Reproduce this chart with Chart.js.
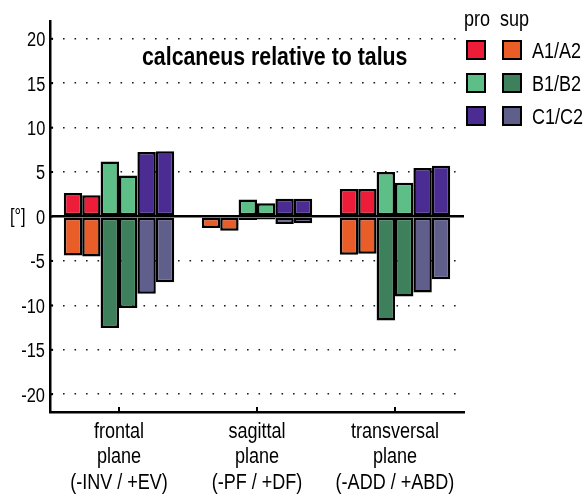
<!DOCTYPE html>
<html>
<head>
<meta charset="utf-8">
<script src="https://cdn.jsdelivr.net/npm/chart.js@4/dist/chart.umd.min.js"></script>
<style>
  html, body { margin: 0; padding: 0; background: #fff; }
  #wrap { position: relative; width: 586px; height: 497px; font-family: 'Liberation Sans', Arial, sans-serif; color: #000; overflow: hidden; }
  canvas { position: absolute; left: 0; top: 0; }
  .txt { position: absolute; white-space: nowrap; line-height: 1; transform: scaleX(0.82); transform-origin: left top; }
  .sw { position: absolute; width: 16px; height: 16px; border: 2.5px solid #000; }
</style>
</head>
<body>
<div id="wrap">
  <canvas id="c" width="586" height="497"></canvas>
  <div class="txt" id="title" style="left:142px; top:43px; font-size:26px; font-weight:bold;">calcaneus relative to talus</div>
  <div class="txt" id="ylab" style="left:10px; top:206px; font-size:20px;">[°]</div>
  <div id="legend"></div>
  <div id="ticks"></div>
</div>
<script>
// ---- data ----
const categories = [
  ['frontal', 'plane', '(-INV / +EV)'],
  ['sagittal', 'plane', '(-PF / +DF)'],
  ['transversal', 'plane', '(-ADD / +ABD)']
];
const yTicks = [-20, -15, -10, -5, 0, 5, 10, 15, 20];
const barNames = ['A1', 'A2', 'B1', 'B2', 'C1', 'C2'];
const legendRows = ['A1/A2', 'B1/B2', 'C1/C2'];
const legendHead = ['pro', 'sup'];
// positive part (pro)
const A1pro = [2.65, null, 3.1];
const A2pro = [2.4, null, 3.1];
const B1pro = [6.2, 1.9, 5.0];
const B2pro = [4.6, 1.5, 3.8];
const C1pro = [7.25, 2.0, 5.45];
const C2pro = [7.35, 2.0, 5.7];
// negative part (sup)
const A1sup = [-4.4, -1.3, -4.3];
const A2sup = [-4.5, -1.6, -4.2];
const B1sup = [-12.55, -0.4, -11.7];
const B2sup = [-10.3, -0.35, -9.0];
const C1sup = [-8.7, -0.85, -8.55];
const C2sup = [-7.4, -0.75, -7.05];

const proColors = ['#ED1C39', '#5DBF87', '#4A2C92'];
const supColors = ['#E85D28', '#3E805B', '#605E8B'];

const proData = [A1pro, A2pro, B1pro, B2pro, C1pro, C2pro];
const supData = [A1sup, A2sup, B1sup, B2sup, C1sup, C2sup];

const datasets = [];
barNames.forEach((name, i) => {
  const g = Math.floor(i / 2);
  datasets.push({ label: name + ' pro', data: proData[i], stack: name, backgroundColor: proColors[g] });
  datasets.push({ label: name + ' sup', data: supData[i], stack: name, backgroundColor: supColors[g] });
});
datasets.forEach(d => { d.borderColor = '#000'; d.borderWidth = 2.5; d.borderSkipped = false; d.categoryPercentage = 0.8; d.barPercentage = 1.0; });

// legend
const leg = document.getElementById('legend');
const hx = [464, 500];
legendHead.forEach((h, j) => {
  const el = document.createElement('div');
  el.className = 'txt'; el.textContent = h;
  el.style.left = hx[j] + 'px'; el.style.top = '8px'; el.style.fontSize = '22px';
  leg.appendChild(el);
});
legendRows.forEach((r, k) => {
  const y = 40 + k * 33;
  [proColors[k], supColors[k]].forEach((c, j) => {
    const s = document.createElement('div');
    s.className = 'sw'; s.style.background = c;
    s.style.left = (466 + j * 36) + 'px'; s.style.top = y + 'px';
    leg.appendChild(s);
  });
  const t = document.createElement('div');
  t.className = 'txt'; t.textContent = r;
  t.style.left = '532px'; t.style.top = y + 'px'; t.style.fontSize = '22px';
  leg.appendChild(t);
});

// ticks drawn inward + tick labels as narrow text positioned from the chart scales
const axisDecor = {
  id: 'axisDecor',
  afterDraw(chart) {
    const ctx = chart.ctx, xs = chart.scales.x, ys = chart.scales.y;
    ctx.save();
    ctx.strokeStyle = '#000'; ctx.lineWidth = 2;
    for (let i = 0; i < xs.ticks.length; i++) {
      const x = xs.getPixelForTick(i);
      ctx.beginPath(); ctx.moveTo(x, xs.top); ctx.lineTo(x, xs.top - 5); ctx.stroke();
    }
    for (let i = 0; i < ys.ticks.length; i++) {
      const y = ys.getPixelForTick(i);
      ctx.beginPath(); ctx.moveTo(ys.right, y); ctx.lineTo(ys.right + 3, y); ctx.stroke();
    }
    ctx.restore();
  },
  afterRender(chart) {
    const box = document.getElementById('ticks');
    if (box.childElementCount) return;
    const xs = chart.scales.x, ys = chart.scales.y;
    ys.ticks.forEach((t, i) => {
      const y = ys.getPixelForTick(i);
      const el = document.createElement('div');
      el.className = 'txt'; el.textContent = String(t.value);
      el.style.fontSize = '20px';
      el.style.right = (586 - (ys.right - 5)) + 'px';
      el.style.top = (y - 9.7) + 'px';
      el.style.transformOrigin = 'right top';
      box.appendChild(el);
    });
    categories.forEach((lines, i) => {
      const x = xs.getPixelForTick(i);
      const el = document.createElement('div');
      el.className = 'txt';
      el.style.fontSize = '22px'; el.style.lineHeight = '25.5px'; el.style.textAlign = 'center';
      el.style.width = '200px'; el.style.left = (x - 100) + 'px'; el.style.top = (xs.top + 5.5) + 'px';
      el.style.transformOrigin = 'center top';
      el.innerHTML = lines.map(s => s.replace(/&/g, '&amp;').replace(/</g, '&lt;')).join('<br>');
      box.appendChild(el);
    });
  }
};

new Chart(document.getElementById('c'), {
  type: 'bar',
  data: { labels: categories, datasets },
  plugins: [axisDecor],
  options: {
    responsive: false,
    animation: false,
    layout: { padding: { top: 21, right: 122, left: 0, bottom: 0 } },
    plugins: { legend: { display: false }, tooltip: { enabled: false }, title: { display: false } },
    scales: {
      x: {
        stacked: true,
        afterFit(s) { s.height = 85; },
        grid: { display: false },
        border: { display: true, color: '#000', width: 2.5 },
        ticks: { display: false, autoSkip: false, maxRotation: 0 }
      },
      y: {
        stacked: true,
        min: -22, max: 22,
        afterFit(s) { s.width = 50; },
        afterBuildTicks(s) { s.ticks = yTicks.map(v => ({ value: v })); },
        grid: {
          drawTicks: false,
          color: (c) => c.tick && c.tick.value === 0 ? '#000' : '#1a1a1a',
          lineWidth: (c) => c.tick && c.tick.value === 0 ? 2.5 : 1.6
        },
        border: {
          display: true, color: '#000', width: 2.5,
          dash: (c) => (!c.tick || c.tick.value === 0) ? [] : [1.6, 9.9]
        },
        ticks: { display: false }
      }
    }
  }
});
</script>
</body>
</html>
